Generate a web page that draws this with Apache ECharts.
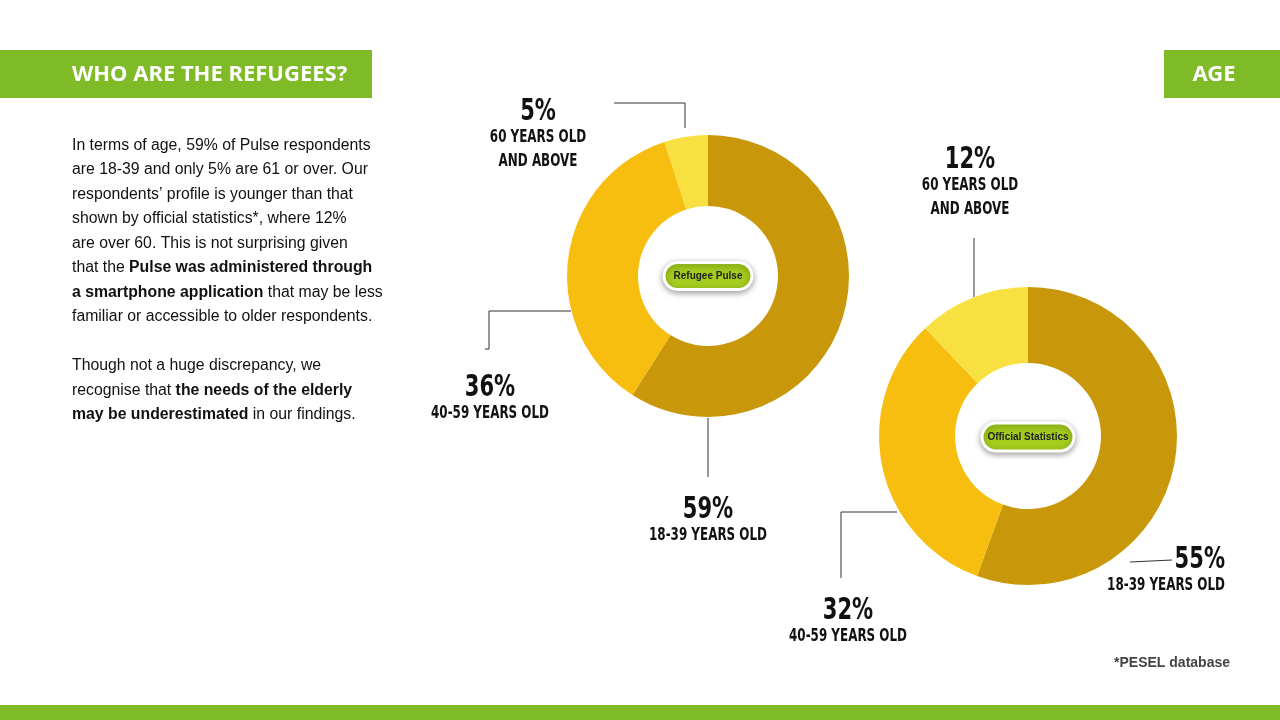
<!DOCTYPE html>
<html>
<head>
<meta charset="utf-8">
<script src="https://cdn.jsdelivr.net/npm/echarts@6/dist/echarts.min.js"></script>
<style>html,body{margin:0;padding:0;background:#fff;}#chart{width:1280px;height:720px;}</style>
</head>
<body>
<div id="chart"></div>
<script>
var categories = ["18-39 YEARS OLD", "40-59 YEARS OLD", "60 YEARS OLD AND ABOVE"];
var pulseValues = [59, 36, 5];
var officialValues = [55, 32, 12];
var sliceColors = ["#C9980A", "#F7BE10", "#F8E040"];
var green = "#7FBA27";
var labelFont = "'DejaVu Sans Condensed','DejaVu Sans',sans-serif";

var myChart = echarts.init(document.getElementById("chart"));

function pieSeries(name, values, center, radius){
	return {
		type: "pie",
		name: name,
		center: center,
		radius: radius,
		startAngle: 90,
		clockwise: true,
		silent: true,
		label: {show: false},
		labelLine: {show: false},
		itemStyle: {borderWidth: 0},
		data: values.map(function(v, i){
			return {name: categories[i], value: v, itemStyle: {color: sliceColors[i]}};
		})
	};
}

// condensed display text, squeezed horizontally around its anchor
function squeezed(x, y, txt, size, align){
	return {
		type: "text", x: x, y: y, scaleX: 0.78,
		style: {text: txt, font: "bold " + size + "px " + labelFont, fill: "#111", align: align || "center", verticalAlign: "middle"}
	};
}

function pctLabel(x, y, val, sub, align){
	var out = [squeezed(x, y, val + "%", 30, align)];
	sub.forEach(function(s, i){
		out.push(squeezed(x, y + 26 + i * 24, s, 17, align));
	});
	return out;
}

function line(points){
	return {type: "polyline", shape: {points: points}, style: {stroke: "#333", lineWidth: 1, fill: null}};
}

function pill(cx, cy, w, h, txt){
	return [{
		type: "rect", shape: {x: cx - w / 2, y: cy - h / 2, width: w, height: h, r: h / 2},
		style: {fill: "#A5CD1E", stroke: "#fff", lineWidth: 3, shadowBlur: 6, shadowColor: "rgba(0,0,0,0.35)", shadowOffsetY: 2}
	}, {
		type: "text", x: cx, y: cy,
		style: {text: txt, font: "bold 10px 'Liberation Sans',sans-serif", fill: "#222", align: "center", verticalAlign: "middle"}
	}];
}

var bodyText = [
	"In terms of age, 59% of Pulse respondents",
	"are 18-39 and only 5% are 61 or over. Our",
	"respondents\u2019 profile is younger than that",
	"shown by official statistics*, where 12%",
	"are over 60. This is not surprising given",
	"that the {b|Pulse was administered through}",
	"{b|a smartphone application} that may be less",
	"familiar or accessible to older respondents.",
	"",
	"Though not a huge discrepancy, we",
	"recognise that {b|the needs of the elderly}",
	"{b|may be underestimated} in our findings."
].join("\n");

var graphics = [
	{type: "rect", shape: {x: 0, y: 50, width: 372, height: 48}, style: {fill: green}},
	{type: "text", x: 72, y: 75, style: {text: "WHO ARE THE REFUGEES?", font: "bold 22px 'Noto Sans',sans-serif", fill: "#fff", verticalAlign: "middle"}},
	{type: "rect", shape: {x: 1164, y: 50, width: 116, height: 48}, style: {fill: green}},
	{type: "text", x: 1214, y: 75, style: {text: "AGE", font: "bold 22px 'Noto Sans',sans-serif", fill: "#fff", align: "center", verticalAlign: "middle"}},
	{type: "rect", shape: {x: 0, y: 705, width: 1280, height: 15}, style: {fill: green}},
	{type: "text", x: 1230, y: 663, style: {text: "*PESEL database", font: "bold 14px 'Liberation Sans',sans-serif", fill: "#444", align: "right", verticalAlign: "middle"}},
	{type: "text", x: 72, y: 133, style: {
		text: bodyText, font: "15.8px 'Liberation Sans',sans-serif", fill: "#111", lineHeight: 24.5,
		rich: {b: {fontWeight: "bold", fontSize: 15.8, fontFamily: "'Liberation Sans',sans-serif", lineHeight: 24.5}}
	}},
	line([[614, 103], [685, 103], [685, 128]]),
	line([[571, 311], [489, 311], [489, 349], [485, 349]]),
	line([[708, 418], [708, 477]]),
	line([[974, 238], [974, 297]]),
	line([[897, 512], [841, 512], [841, 578]]),
	line([[1130, 562], [1172, 560]])
];
graphics = graphics
	.concat(pill(708, 276, 88, 27, "Refugee Pulse"))
	.concat(pill(1028, 437, 92, 28, "Official Statistics"))
	.concat(pctLabel(538, 112, pulseValues[2], ["60 YEARS OLD", "AND ABOVE"]))
	.concat(pctLabel(490, 388, pulseValues[1], ["40-59 YEARS OLD"]))
	.concat(pctLabel(708, 510, pulseValues[0], ["18-39 YEARS OLD"]))
	.concat(pctLabel(970, 160, officialValues[2], ["60 YEARS OLD", "AND ABOVE"]))
	.concat(pctLabel(848, 611, officialValues[1], ["40-59 YEARS OLD"]))
	.concat(pctLabel(1225, 560, officialValues[0], ["18-39 YEARS OLD"], "right"));

var option = {
	animation: false,
	backgroundColor: "#fff",
	series: [
		pieSeries("Refugee Pulse", pulseValues, [708, 276], [70, 141]),
		pieSeries("Official Statistics", officialValues, [1028, 436], [73, 149])
	],
	graphic: graphics
};
myChart.setOption(option);
</script>
</body>
</html>
